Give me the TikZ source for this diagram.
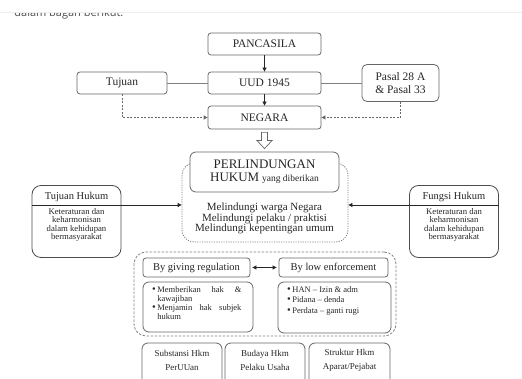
\documentclass[tikz,border=0pt]{standalone}
\usepackage{fontspec}
\setmainfont{Liberation Serif}
\newfontfamily\pagefont{Open Sans}
\usetikzlibrary{positioning,arrows.meta,calc}
\newcommand{\bigbul}{\makebox[7pt][c]{\fontsize{10.5}{8}\selectfont\textbullet}}

\begin{document}
\begin{tikzpicture}[x=1pt, y=-1pt, line width=0.8pt,
  every node/.style={text=black!85},
  box/.style={draw=black!60, rounded corners=3pt, fill=white, minimum width=113pt, minimum height=22pt, align=center, inner sep=1pt, font=\fontsize{11.5}{13}\selectfont},
  hbox/.style={draw=black!70, rounded corners=9pt, minimum width=89pt, minimum height=72pt},
  htitle/.style={font=\fontsize{10.5}{12}\selectfont, inner sep=0pt},
  hbody/.style={font=\fontsize{8.7}{8.3}\selectfont, align=center, inner sep=0pt},
  grp/.style={draw=black!55, rounded corners=12pt},
  subbox/.style={draw=black!60, rounded corners=6pt, fill=white},
  bul/.style={font=\fontsize{8.5}{9.2}\selectfont, align=left, inner sep=0pt, anchor=north west},
  lowtxt/.style={font=\fontsize{9}{14}\selectfont, align=center, inner sep=0pt},
  link/.style={draw=black!50},
  arr/.style={-{Triangle[length=4pt, width=4pt]}, draw=black!85},
  darr/.style={-{Triangle[length=4pt, width=4pt]}, draw=black!60, dash pattern=on 2pt off 1.5pt},
  dblarr/.style={{Triangle[length=4pt, width=4pt]}-{Triangle[length=4pt, width=4pt]}, draw=black!85, shorten <=2pt, shorten >=2pt},
  hollow/.style={draw=black!60, fill=white, line width=0.7pt}]
\useasboundingbox (0,0) rectangle (522,379);
\clip (0,0) rectangle (522,379);

% cut-off line of the page above the chart
\node[anchor=base west, inner sep=0pt, font=\pagefont\fontsize{11}{13}\selectfont, text=black!70] (intro) at (14,17) {dalam bagan berikut.};
\fill[white] (0,0) rectangle (522,12);
\fill[black!7] (0,12) rectangle (522,13.5);

% top chain
\node[box] (pan) at (264.5,44) {PANCASILA};
\node[box] (uud) at (264.5,83) {UUD 1945};
\node[box, minimum height=23pt] (neg) at (264.5,117.5) {NEGARA};
\node[box, minimum width=90pt] (tuj) at (122,83) {Tujuan};
\node[box, minimum width=77pt, minimum height=37pt, rounded corners=5pt] (pasal) at (400.5,83) {Pasal 28 A\\\& Pasal 33};
\draw[link] (tuj) -- (uud);
\draw[link] (uud) -- (pasal);
\draw[arr] (pan) -- (uud);
\draw[arr] (uud) -- (neg);
\draw[darr] (tuj.south) |- (neg.west);
\draw[darr] (pasal.south) |- (neg.east);

% protection block
\node[grp, draw=black!50, dash pattern=on 1.2pt off 1.2pt, minimum width=166pt, minimum height=79pt] (prot) at (265,202.5) {};
\node[box, minimum width=149pt, minimum height=40pt, rounded corners=6pt] (perl) at (264.5,172)
  {{\fontsize{13}{14}\selectfont PERLINDUNGAN}\\{\fontsize{13}{14}\selectfont HUKUM} {\fontsize{9.5}{11}\selectfont yang diberikan}};
\node[align=center, inner sep=0pt, font=\fontsize{11}{10.5}\selectfont] (melind) at (264.5,218.5)
  {Melindungi warga Negara\\Melindungi pelaku / praktisi\\Melindungi kepentingan umum};
\draw[hollow] ($(neg.south)+(-3,3)$) -- ($(neg.south)+(3,3)$) -- ($(perl.north)+(3,-11)$)
  -- ($(perl.north)+(7.5,-11)$) -- ($(perl.north)+(0,-3)$) -- ($(perl.north)+(-7.5,-11)$)
  -- ($(perl.north)+(-3,-11)$) -- cycle;

% side boxes
\node[hbox] (tujh) at (76.5,221.5) {};
\node[htitle] (tujht) at (76.5,197) {Tujuan Hukum};
\node[hbody] (tujhb) at (76.5,225) {Keteraturan dan\\keharmonisan\\dalam kehidupan\\bermasyarakat};
\draw[arr] (tujh.west |- 0,205) -- (prot.west |- 0,205);
\node[hbox] (fungh) at (454,221.5) {};
\node[htitle] (funght) at (454,197) {Fungsi Hukum};
\node[hbody] (funghb) at (454,225) {Keteraturan dan\\keharmonisan\\dalam kehidupan\\bermasyarakat};
\draw[arr] (fungh.east |- 0,205) -- (prot.east |- 0,205);

% regulation block
\node[grp, draw=black!50, dash pattern=on 2.5pt off 1.5pt, minimum width=262pt, minimum height=84pt] (reg) at (265,294) {};
\node[box, minimum width=107pt, minimum height=19pt, font=\fontsize{10.5}{12}\selectfont] (giv) at (196.5,267.5) {By giving regulation};
\node[box, minimum width=109pt, minimum height=19pt, font=\fontsize{10.5}{12}\selectfont] (enf) at (333.5,267.5) {By low enforcement};
\draw[dblarr] (giv) -- (enf);
\node[subbox, minimum width=110pt, minimum height=50pt] (givl) at (198,307) {};
\node[subbox, minimum width=113pt, minimum height=51pt] (enfl) at (334.5,307.5) {};
\node[bul] (givt) at (150,286) {%
  \bigbul\makebox[84pt][s]{Memberikan hak \&}\\
  \hspace*{7pt}kawajiban\\
  \bigbul\makebox[84pt][s]{Menjamin hak subjek}\\
  \hspace*{7pt}hukum};
\node[bul, font=\fontsize{8.5}{10.5}\selectfont] (enft) at (285,286) {%
  \bigbul HAN -- Izin \& adm\\
  \bigbul Pidana -- denda\\
  \bigbul Perdata -- ganti rugi};

% bottom boxes
\node[subbox, minimum width=80pt, minimum height=52pt] (sub) at (182,369) {};
\node[subbox, minimum width=80pt, minimum height=52pt] (bud) at (265,369) {};
\node[subbox, minimum width=81pt, minimum height=52pt] (str) at (349.5,369) {};
\node[lowtxt] (subt) at (182,360) {Substansi Hkm\\PerUUan};
\node[lowtxt] (budt) at (265,360) {Budaya Hkm\\Pelaku Usaha};
\node[lowtxt] (strt) at (349.5,360) {Struktur Hkm\\Aparat/Pejabat};
\end{tikzpicture}
\end{document}
